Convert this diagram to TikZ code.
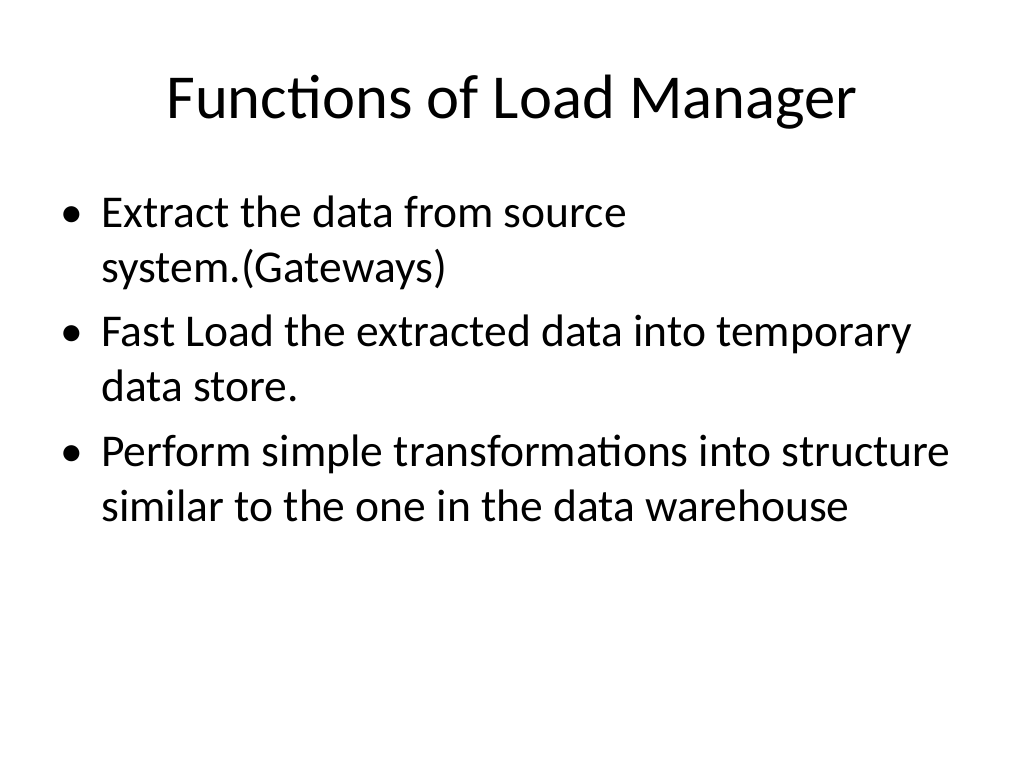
\documentclass[tikz,border=0pt]{standalone}
\usepackage{fontspec}
\setmainfont{Carlito}
\begin{document}
\begin{tikzpicture}[x=0.703pt,y=-0.703pt,
  title/.style={anchor=base,inner sep=0pt,font=\fontsize{44}{52}\selectfont},
  txt/.style={anchor=base west,inner sep=0pt,font=\fontsize{32}{38}\selectfont},
  bul/.style={anchor=base west,inner sep=0pt,font=\fontsize{32}{38}\selectfont}]
\useasboundingbox[fill=white] (0,0) rectangle (1024,768);
\node[title] (t) at (512,118) {Functions of Load Manager};
\node[bul] (b1) at (60,227) {•};
\node[txt] (l1) at (101,227) {Extract the data from source};
\node[txt] (l2) at (101,282) {system.(Gateways)};
\node[bul] (b2) at (60,346) {•};
\node[txt] (l3) at (101,346) {Fast Load the extracted data into temporary};
\node[txt] (l4) at (101,401) {data store.};
\node[bul] (b3) at (60,466) {•};
\node[txt] (l5) at (101,466) {Perform simple transformations into structure};
\node[txt] (l6) at (101,521) {similar to the one in the data warehouse};
\end{tikzpicture}
\end{document}
